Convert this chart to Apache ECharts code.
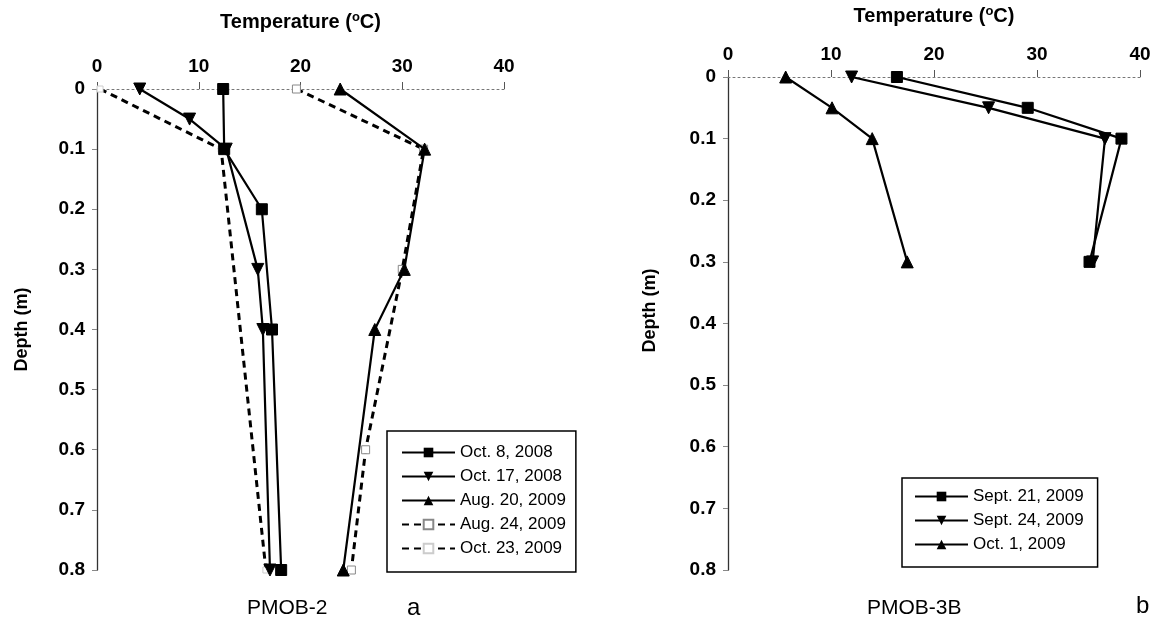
<!DOCTYPE html>
<html>
<head>
<meta charset="utf-8">
<script src="https://cdn.jsdelivr.net/npm/echarts@6/dist/echarts.min.js"></script>
<style>
html,body{margin:0;padding:0;background:#fff;}
#chart{width:1156px;height:636px;}
</style>
</head>
<body>
<div id="chart"></div>
<script>
// ---------- data (temperature in °C, depth in m) ----------
var tempTicks = [0, 10, 20, 30, 40];
var depthTicks = [0, 0.1, 0.2, 0.3, 0.4, 0.5, 0.6, 0.7, 0.8];

// Panel a: PMOB-2
var oct8_2008_depth  = [0, 0.1, 0.2, 0.4, 0.8];
var oct8_2008_temp   = [12.4, 12.5, 16.2, 17.2, 18.1];
var oct17_2008_depth = [0, 0.05, 0.1, 0.3, 0.4, 0.8];
var oct17_2008_temp  = [4.2, 9.1, 12.7, 15.8, 16.3, 17.0];
var aug20_2009_depth = [0, 0.1, 0.3, 0.4, 0.8];
var aug20_2009_temp  = [23.9, 32.2, 30.2, 27.3, 24.2];
var aug24_2009_depth = [0, 0.1, 0.3, 0.6, 0.8];
var aug24_2009_temp  = [19.6, 32.1, 30.0, 26.4, 25.0];
var oct23_2009_depth = [0, 0.1, 0.8];
var oct23_2009_temp  = [0.3, 12.2, 16.6];

// Panel b: PMOB-3B
var sep21_2009_depth = [0, 0.05, 0.1, 0.3];
var sep21_2009_temp  = [16.4, 29.1, 38.2, 35.1];
var sep24_2009_depth = [0, 0.05, 0.1, 0.3];
var sep24_2009_temp  = [12.0, 25.3, 36.6, 35.4];
var oct1_2009_depth  = [0, 0.05, 0.1, 0.3];
var oct1_2009_temp   = [5.6, 10.1, 14.0, 17.4];

function pairs(t, d) { return t.map(function (v, i) { return [v, d[i]]; }); }

var FONT = '"Liberation Sans", Arial, sans-serif';

function xAxisCfg(gi) {
  return {
    gridIndex: gi, type: 'value', position: 'top',
    min: tempTicks[0], max: tempTicks[tempTicks.length - 1], interval: 10,
    name: 'Temperature ({sup|o}C)', nameLocation: 'middle', nameGap: gi === 0 ? 56 : 50,
    nameTextStyle: { fontFamily: FONT, fontSize: 20, fontWeight: 'bold', color: '#000',
      rich: { sup: { fontSize: 13, fontWeight: 'bold', verticalAlign: 'top', padding: [0, 0, 9, 0], fontFamily: FONT, color: '#000' } } },
    axisLine: { show: true, lineStyle: { color: '#777', type: [2, 3], width: 1 } },
    axisTick: { show: true, inside: false, length: 7, lineStyle: { color: '#555', width: 1 } },
    axisLabel: { margin: 13, fontFamily: FONT, fontSize: 19, fontWeight: 'bold', color: '#000' },
    splitLine: { show: false }
  };
}
function yAxisCfg(gi) {
  return {
    gridIndex: gi, type: 'value', inverse: true,
    min: depthTicks[0], max: depthTicks[depthTicks.length - 1], interval: 0.1,
    name: 'Depth (m)', nameLocation: 'middle', nameGap: gi === 0 ? 66 : 69, nameRotate: 90,
    nameTextStyle: { fontFamily: FONT, fontSize: 18, fontWeight: 'bold', color: '#000',
      padding: gi === 0 ? [0, 0, 0, 0] : [0, 0, 0, 26] },
    axisLine: { show: true, lineStyle: { color: '#333', width: 1.3 } },
    axisTick: { show: true, length: 5, lineStyle: { color: '#888', width: 1 } },
    axisLabel: { margin: 12, fontFamily: FONT, fontSize: 19, fontWeight: 'bold', color: '#000',
      formatter: function (v) { return String(Math.round(v * 10) / 10); } },
    splitLine: { show: false }
  };
}

function solid(name, t, d, sym, rot, gi) {
  return {
    name: name, type: 'line', xAxisIndex: gi, yAxisIndex: gi,
    data: pairs(t, d), symbol: sym, symbolSize: sym === 'rect' ? 11 : 12, symbolRotate: rot || 0,
    showAllSymbol: true,
    lineStyle: { color: '#000', width: 2.2, type: 'solid' },
    itemStyle: { color: '#000', borderColor: '#000' }, z: 3
  };
}
function dashed(name, t, d, mColor, size, gi) {
  return {
    name: name, type: 'line', xAxisIndex: gi, yAxisIndex: gi,
    data: pairs(t, d), symbol: 'rect', symbolSize: size,
    lineStyle: { color: '#000', width: 3, type: [7, 5] },
    itemStyle: { color: '#fff', borderColor: mColor, borderWidth: 1 }, z: 2
  };
}

var chart = echarts.init(document.getElementById('chart'), null, { renderer: 'canvas' });
chart.setOption({
  animation: false,
  backgroundColor: '#fff',
  textStyle: { fontFamily: FONT },
  grid: [
    { left: 97, top: 89, width: 407, height: 481 },
    { left: 728, top: 77, width: 412, height: 493 }
  ],
  xAxis: [xAxisCfg(0), xAxisCfg(1)],
  yAxis: [yAxisCfg(0), yAxisCfg(1)],
  legend: [
    {
      data: ['Oct. 8, 2008', 'Oct. 17, 2008', 'Aug. 20, 2009', 'Aug. 24, 2009', 'Oct. 23, 2009'],
      orient: 'vertical', left: 387, top: 431,
      itemWidth: 53, itemHeight: 12, itemGap: 7,
      padding: [13, 10, 15, 14],
      borderColor: '#000', borderWidth: 1.5, borderRadius: 0,
      textStyle: { fontFamily: FONT, fontSize: 17, color: '#000', lineHeight: 16 }
    },
    {
      data: ['Sept. 21, 2009', 'Sept. 24, 2009', 'Oct. 1, 2009'],
      orient: 'vertical', left: 902, top: 478,
      itemWidth: 53, itemHeight: 12, itemGap: 7,
      padding: [10, 14, 14, 12],
      borderColor: '#000', borderWidth: 1.5, borderRadius: 0,
      textStyle: { fontFamily: FONT, fontSize: 17, color: '#000', lineHeight: 16 }
    }
  ],
  series: [
    solid('Oct. 8, 2008', oct8_2008_temp, oct8_2008_depth, 'rect', 0, 0),
    solid('Oct. 17, 2008', oct17_2008_temp, oct17_2008_depth, 'triangle', 180, 0),
    solid('Aug. 20, 2009', aug20_2009_temp, aug20_2009_depth, 'triangle', 0, 0),
    dashed('Aug. 24, 2009', aug24_2009_temp, aug24_2009_depth, '#888', 8, 0),
    dashed('Oct. 23, 2009', oct23_2009_temp, oct23_2009_depth, '#ccc', 6, 0),
    solid('Sept. 21, 2009', sep21_2009_temp, sep21_2009_depth, 'rect', 0, 1),
    solid('Sept. 24, 2009', sep24_2009_temp, sep24_2009_depth, 'triangle', 180, 1),
    solid('Oct. 1, 2009', oct1_2009_temp, oct1_2009_depth, 'triangle', 0, 1)
  ],
  graphic: [
    { type: 'text', left: 247, top: 598, style: { text: 'PMOB-2', font: '21px ' + FONT, fill: '#000' } },
    { type: 'text', left: 407, top: 596, style: { text: 'a', font: '24px ' + FONT, fill: '#000' } },
    { type: 'text', left: 867, top: 598, style: { text: 'PMOB-3B', font: '21px ' + FONT, fill: '#000' } },
    { type: 'text', left: 1136, top: 594, style: { text: 'b', font: '24px ' + FONT, fill: '#000' } }
  ]
});
</script>
</body>
</html>
